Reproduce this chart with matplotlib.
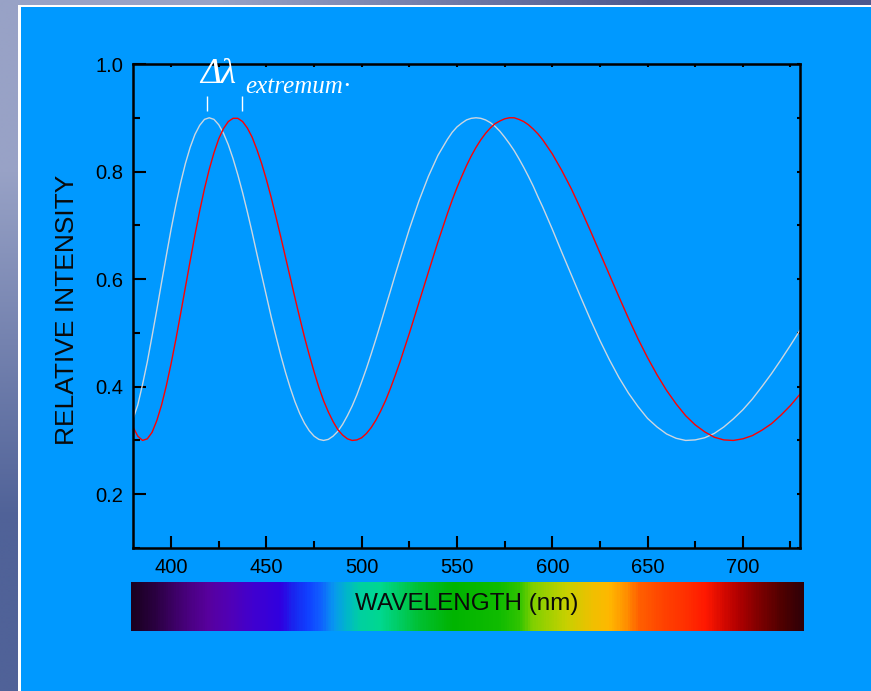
import numpy as np
import matplotlib
matplotlib.use("Agg")
import matplotlib.pyplot as plt
from matplotlib.colors import LinearSegmentedColormap
from matplotlib.patches import Rectangle
from matplotlib.ticker import MultipleLocator

# wavelength grid (nm): finer steps around the tight fringes and the second peaks
wavelength = [380, 382.5, 385, 387.5, 390, 392.5, 395, 397.5, 400, 402.5,
              405, 407.5, 410, 412.5, 415, 417.5, 420, 422.5, 425, 427.5,
              430, 432.5, 435, 437.5, 440, 442.5, 445, 447.5, 450, 452.5,
              455, 457.5, 460, 462.5, 465, 467.5, 470, 472.5, 475, 477.5,
              480, 482.5, 485, 487.5, 490, 492.5, 495, 497.5, 500, 502.5,
              505, 507.5, 510, 512.5, 515, 517.5, 520,
              525, 530, 535, 540, 545, 547.5, 550, 552.5, 555, 557.5,
              560, 562.5, 565, 567.5, 570, 572.5, 575, 577.5, 580, 582.5,
              585, 587.5, 590, 592.5, 595, 600, 605, 610, 615, 620,
              625, 630, 635, 640, 645, 650, 655, 660, 665, 670,
              675, 680, 685, 690, 695, 700, 705, 710, 715, 720, 725, 730]

white_curve = [0.340, 0.366, 0.404, 0.446, 0.494, 0.543, 0.594, 0.644, 0.693, 0.738,
               0.779, 0.815, 0.845, 0.869, 0.886, 0.897, 0.900, 0.897, 0.887, 0.871,
               0.850, 0.824, 0.794, 0.761, 0.725, 0.687, 0.647, 0.608, 0.569, 0.530,
               0.494, 0.459, 0.427, 0.398, 0.372, 0.350, 0.332, 0.318, 0.308, 0.302,
               0.300, 0.302, 0.308, 0.317, 0.330, 0.346, 0.364, 0.385, 0.409, 0.434,
               0.461, 0.489, 0.518, 0.548, 0.577, 0.607, 0.636,
               0.693, 0.745, 0.791, 0.830, 0.860, 0.873, 0.883, 0.890, 0.896, 0.899,
               0.900, 0.899, 0.896, 0.891, 0.884, 0.875, 0.864, 0.852, 0.839, 0.824,
               0.808, 0.791, 0.773, 0.753, 0.734, 0.693, 0.650, 0.608, 0.566, 0.525,
               0.486, 0.450, 0.417, 0.388, 0.363, 0.341, 0.325, 0.312, 0.304, 0.300,
               0.301, 0.305, 0.313, 0.325, 0.340, 0.357, 0.377, 0.400, 0.424, 0.450, 0.477, 0.505]

red_curve = [0.325, 0.308, 0.300, 0.303, 0.315, 0.337, 0.366, 0.402, 0.443, 0.488,
             0.536, 0.585, 0.634, 0.682, 0.727, 0.768, 0.804, 0.835, 0.861, 0.880,
             0.893, 0.899, 0.899, 0.893, 0.881, 0.864, 0.841, 0.815, 0.785, 0.752,
             0.716, 0.679, 0.641, 0.603, 0.565, 0.528, 0.492, 0.459, 0.428, 0.399,
             0.374, 0.353, 0.335, 0.320, 0.310, 0.303, 0.300, 0.301, 0.305, 0.313,
             0.324, 0.338, 0.355, 0.374, 0.396, 0.420, 0.445,
             0.499, 0.556, 0.613, 0.669, 0.722, 0.747, 0.770, 0.791, 0.811, 0.829,
             0.845, 0.859, 0.871, 0.881, 0.889, 0.894, 0.898, 0.900, 0.900, 0.897,
             0.893, 0.887, 0.879, 0.870, 0.859, 0.833, 0.802, 0.768, 0.730, 0.690,
             0.649, 0.608, 0.567, 0.527, 0.489, 0.454, 0.422, 0.393, 0.368, 0.346,
             0.329, 0.316, 0.306, 0.301, 0.300, 0.303, 0.309, 0.319, 0.331, 0.347, 0.365, 0.386]

peak_marks = [419, 437]
x_ticks = [400, 450, 500, 550, 600, 650, 700]
y_ticks = [0.2, 0.4, 0.6, 0.8, 1.0]

W, H = 871, 691


def px(x, y):
    return x / W, 1 - y / H


fig = plt.figure(figsize=(W / 100, H / 100), dpi=100)

# slate gradient behind the blue slide panel
bg = fig.add_axes([0, 0, 1, 1], zorder=-10)
grad = np.array([[[152, 162, 198], [78, 88, 142]],
                 [[80, 98, 152], [60, 70, 128]]]) / 255
bg.imshow(grad, aspect="auto", interpolation="bilinear", extent=[0, 1, 0, 1])
bg.set_axis_off()
fig.patches.append(Rectangle(px(18, 691), 1, (691 - 5) / H, transform=fig.transFigure,
                             facecolor="white", edgecolor="none", zorder=-5))
fig.patches.append(Rectangle(px(20.5, 691), 1, (691 - 7) / H, transform=fig.transFigure,
                             facecolor="#0099ff", edgecolor="none", zorder=-4))

# main plot
ax = fig.add_axes([133 / W, 143 / H, 667 / W, 484 / H])
ax.patch.set_visible(False)
ax.plot(wavelength, white_curve, color="#cdd6e0", lw=1.0)
ax.plot(wavelength, red_curve, color="#ff0000", lw=1.0)
ax.vlines(peak_marks, 0.913, 0.940, color="white", lw=1.0)

ax.set_xlim(380, 730)
ax.set_ylim(0.1, 1.0)
ax.set_xticks(x_ticks)
ax.set_yticks(y_ticks)
ax.set_yticklabels([f"{v:.1f}" for v in y_ticks])
ax.xaxis.set_minor_locator(MultipleLocator(25))
ax.yaxis.set_minor_locator(MultipleLocator(0.1))
ax.tick_params(which="both", direction="in", width=1.5, labelsize=14.5, pad=7,
               labelfontfamily="Liberation Sans")
ax.tick_params(which="major", length=9)
ax.tick_params(which="minor", length=5)
for s in ax.spines.values():
    s.set_linewidth(1.8)

top = ax.secondary_xaxis("top")
top.set_xticks(x_ticks)
top.xaxis.set_minor_locator(MultipleLocator(25))
top.tick_params(which="both", direction="in", length=2.5, width=1.5, labeltop=False)
right = ax.secondary_yaxis("right")
right.set_yticks(y_ticks)
right.yaxis.set_minor_locator(MultipleLocator(0.1))
right.tick_params(which="both", direction="in", length=2.5, width=1.5, labelright=False)

fig.text(*px(67, 310), "RELATIVE INTENSITY", rotation=90, ha="center", va="center",
         fontsize=19, family="Liberation Sans", color="#0a0a0a")

# delta lambda annotation
fig.text(*px(200, 83), "\u0394\u03bb", fontsize=25.5, family="Liberation Serif",
         style="italic", color="white", ha="left", va="baseline")
fig.text(*px(245, 93), "extremum", fontsize=18, family="Liberation Serif",
         style="italic", color="white", ha="left", va="baseline")
fig.text(*px(343, 86), ".", fontsize=19, family="Liberation Serif",
         color="white", ha="left", va="baseline")

# visible spectrum strip
stops = [(131, "#1a0020"), (153, "#2a0040"), (187, "#4a0080"), (207, "#58009e"),
         (230, "#5000b8"), (253, "#4000d0"), (280, "#3000e0"), (293, "#1828f0"),
         (307, "#1040ff"), (320, "#1060ff"), (333, "#0898f0"), (347, "#00b8c8"),
         (360, "#00d0a0"), (380, "#00d890"), (400, "#00cc60"), (420, "#00c030"),
         (453, "#00b400"), (500, "#10bc00"), (520, "#30c400"), (533, "#80d000"),
         (567, "#c8d000"), (593, "#f0c000"), (610, "#ffb800"), (627, "#ff9000"),
         (640, "#ff6000"), (667, "#ff4000"), (687, "#ff3000"), (707, "#ff1800"),
         (727, "#d00800"), (740, "#b00000"), (760, "#800000"), (783, "#500000"),
         (804, "#300008")]
cmap = LinearSegmentedColormap.from_list(
    "spectrum", [((p - 131) / 673, c) for p, c in stops])
sax = fig.add_axes([131 / W, 60 / H, 673 / W, 49 / H])
sax.imshow(np.linspace(0, 1, 600)[None, :], cmap=cmap, aspect="auto",
           extent=[0, 1, 0, 1])
sax.set_axis_off()

fig.text(*px(466.5, 610), "WAVELENGTH (nm)", ha="center", va="baseline",
         fontsize=17.5, family="Liberation Sans", color="#0a0a0a")

fig.savefig("out.png", dpi=100)
